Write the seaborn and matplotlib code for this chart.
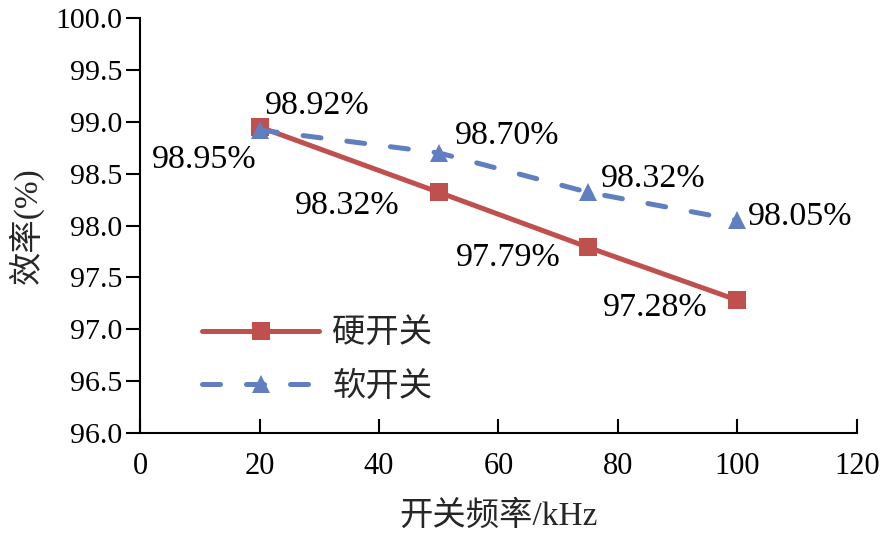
import matplotlib
matplotlib.use("Agg")
import matplotlib.pyplot as plt
import seaborn as sns
import pandas as pd

freq = [20, 50, 75, 100]
hard = [98.95, 98.32, 97.79, 97.28]
soft = [98.92, 98.70, 98.32, 98.05]
series_names = ["硬开关", "软开关"]
x_ticks = [0, 20, 40, 60, 80, 100, 120]
y_ticks = [96.0, 96.5, 97.0, 97.5, 98.0, 98.5, 99.0, 99.5, 100.0]

sns.set_theme(style="white")
plt.rcParams['font.family'] = ['Liberation Serif', 'Noto Sans CJK SC']
plt.rcParams['axes.unicode_minus'] = False

df = pd.DataFrame({
    "freq": freq * 2,
    "eff": hard + soft,
    "type": [series_names[0]] * 4 + [series_names[1]] * 4,
})

fig = plt.figure(figsize=(8.87, 5.36), dpi=100)
ax = fig.add_axes([140/887, 103/536, 717/887, 415/536])

red = "#C0504D"
blue = "#5F7FC0"
sns.lineplot(data=df, x="freq", y="eff", hue="type", style="type",
             palette=[red, blue], markers=["s", "^"],
             dashes=[(None, None), (3.6, 5.2)], linewidth=3.6,
             markersize=13, markeredgewidth=0, ax=ax)
for ln in ax.lines:
    ln.set_dash_capstyle("round")
    ln.set_solid_capstyle("round")

# annotations
hard_off = [(-55, -33), (-92, -13), (-80, -10), (-82, -8)]
soft_off = [(58, 24), (68, 17), (65, 14), (63, 4)]
for x, y, o in zip(freq, hard, hard_off):
    ax.annotate(f"{y:.2f}%", (x, y), xytext=o, textcoords="offset pixels",
                ha="center", va="center", fontsize=24.5, color="black")
for x, y, o in zip(freq, soft, soft_off):
    ax.annotate(f"{y:.2f}%", (x, y), xytext=o, textcoords="offset pixels",
                ha="center", va="center", fontsize=24.5, color="black")

ax.set_xlim(0, 120)
ax.set_ylim(96.0, 100.0)
ax.set_xticks(x_ticks)
ax.set_yticks(y_ticks)
ax.set_xticklabels([str(t) for t in x_ticks])
ax.set_yticklabels([f"{t:.1f}" for t in y_ticks])
for s in ["top", "right"]:
    ax.spines[s].set_visible(False)
for s in ["left", "bottom"]:
    ax.spines[s].set_color("black")
    ax.spines[s].set_linewidth(1.5)
ax.tick_params(axis="y", direction="out", length=10, width=1.5, colors="black",
               labelsize=21.5, pad=3, left=True)
ax.tick_params(axis="x", direction="in", length=10, width=1.5, colors="black",
               labelsize=22, pad=14, bottom=True)
ax.set_xlabel("开关频率/kHz", fontsize=24, labelpad=14)
ax.set_ylabel("效率(%)", fontsize=24, labelpad=8)

leg = ax.legend(loc="lower left", bbox_to_anchor=(0.045, 0.0), frameon=False,
                fontsize=24, handlelength=3.5, handletextpad=0.4,
                labelspacing=0.65)
for ln in leg.get_lines():
    ln.set_dash_capstyle("round")
    ln.set_solid_capstyle("round")

fig.savefig("out.png", dpi=100)
